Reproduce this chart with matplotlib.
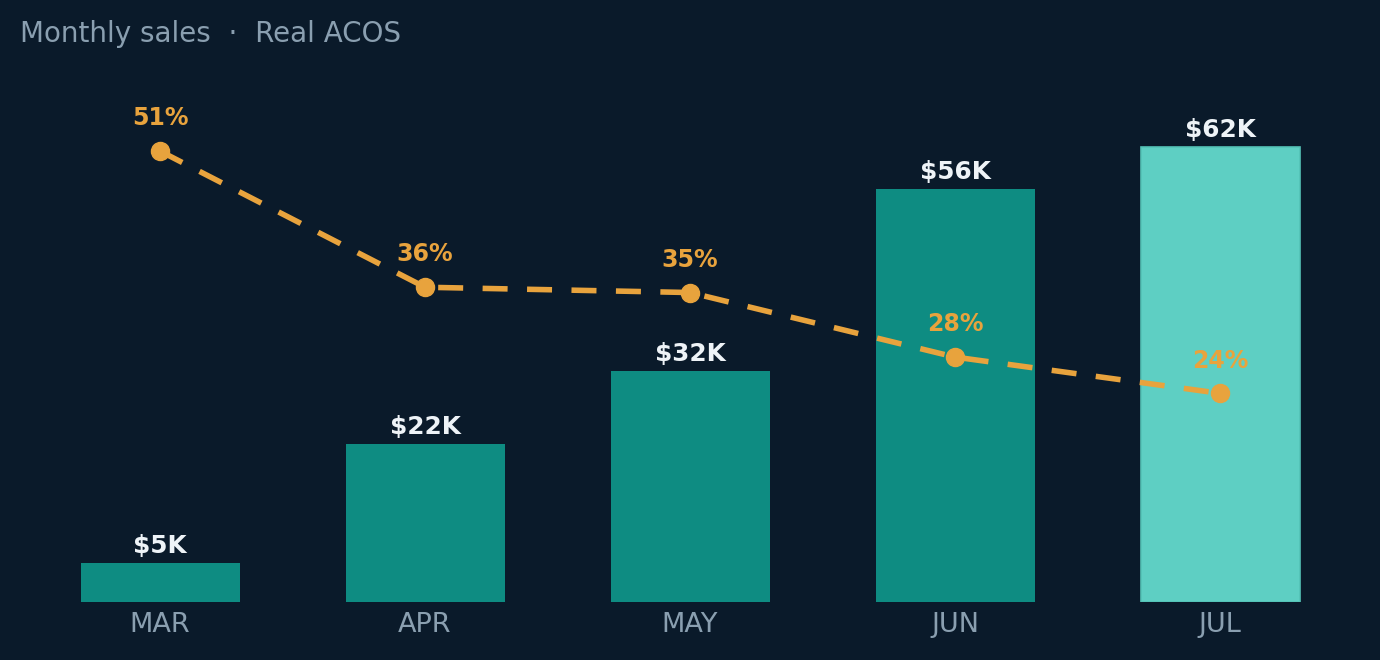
import numpy as np
import matplotlib.pyplot as plt

# datos
meses = ['MAR', 'APR', 'MAY', 'JUN', 'JUL']
ventas = [5300, 21500, 31500, 56300, 62000]
acos = [51.0, 35.6, 35.0, 27.7, 23.6]

fondo = '#0a1a2a'
teal = '#0e8c82'
teal_claro = '#5ecfc3'
naranja = '#e8a33d'
gris = '#8a9fb0'
blanco = '#eef3f7'

fig = plt.figure(figsize=(13.8, 6.6), dpi=100, facecolor=fondo)
ax = fig.add_axes([27.5 / 1380, 58 / 660, 1325 / 1380, 542 / 660])
ax.set_facecolor(fondo)

x = np.arange(len(meses))
colores = [teal] * (len(meses) - 1) + [teal_claro]
barras = ax.bar(x, ventas, width=0.6, color=colores, zorder=2)
barras[-1].set_edgecolor('#54c2b6')
barras[-1].set_linewidth(1.2)

ax.bar_label(barras, labels=['${:.0f}K'.format(v / 1000) for v in ventas],
             padding=3.5, color=blanco, fontsize=17.8, fontweight='bold')

ax.set_xlim(-0.5, len(meses) - 0.5)
ax.set_ylim(0, 73850)
ax.set_xticks(x)
ax.set_xticklabels(meses, color=gris, fontsize=19.5)
ax.tick_params(axis='x', length=0, pad=7)
ax.set_yticks([])
for s in ax.spines.values():
    s.set_visible(False)

# linea ACOS en eje secundario
ax2 = ax.twinx()
ax2.set_ylim(0, 61.3)
ax2.plot(x, acos, color=naranja, lw=4, dashes=(4.5, 3.5), marker='o',
         markersize=13, zorder=3)
for xi, a in zip(x, acos):
    ax2.annotate('{:.0f}%'.format(a), (xi, a), xytext=(0, 15),
                 textcoords='offset points', ha='center', va='bottom',
                 color=naranja, fontsize=17, fontweight='bold')
ax2.set_yticks([])
for s in ax2.spines.values():
    s.set_visible(False)

fig.text(20 / 1380, 1 - 20 / 660, 'Monthly sales  \u00b7  Real ACOS',
         color=gris, fontsize=20, va='top', ha='left')

fig.savefig('out.png', facecolor=fondo)
